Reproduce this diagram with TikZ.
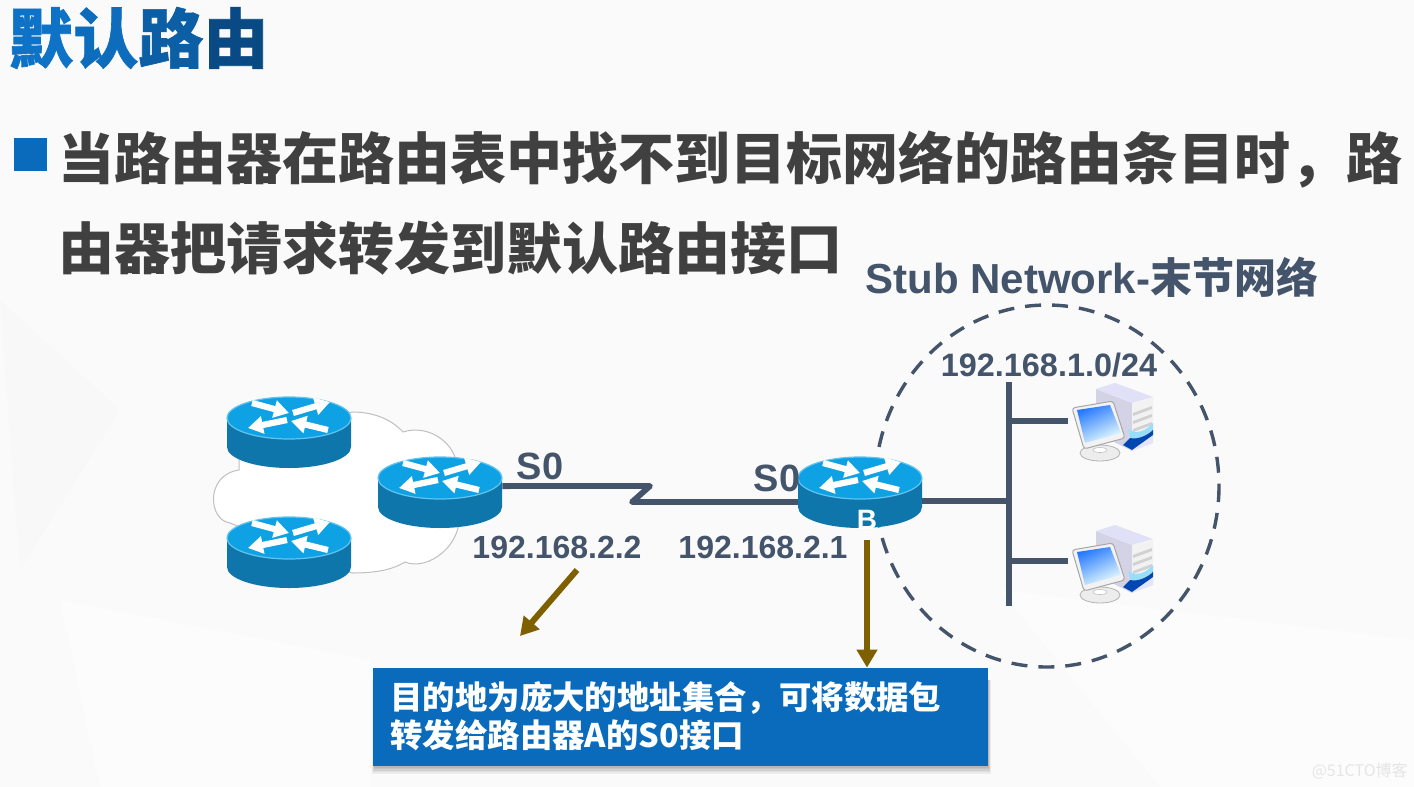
\documentclass[tikz,border=0pt]{standalone}
\usepackage{fontspec}
\setmainfont{Liberation Sans}
\newfontfamily\cjk{Noto Sans CJK SC}
\newfontfamily\cjkheavy{Noto Sans CJK SC}[BoldFeatures={FakeBold=1}]
\usetikzlibrary{arrows.meta,calc}
\definecolor{slate}{HTML}{44546A}
\definecolor{bluebox}{HTML}{0A6BBD}
\definecolor{brownarrow}{HTML}{7F6000}
\definecolor{bodygray}{HTML}{404040}
\definecolor{rtop}{HTML}{0EA2E4}
\definecolor{rside}{HTML}{0F76AC}
\definecolor{rrim}{HTML}{62C4EE}
\definecolor{rshadow}{HTML}{0B4F7A}
\tikzset{
  routerbox/.style={inner sep=0pt,minimum width=62pt,minimum height=35.5pt},
  pcbox/.style={inner sep=0pt,minimum width=44pt,minimum height=40pt},
  rarrow/.style={white,line width=3.1pt,-{Triangle[length=7.5pt,width=8.5pt]}},
  netline/.style={slate,line width=2.9pt},
  brarrow/.style={brownarrow,line width=3pt,-{Triangle[length=9pt,width=10pt]}},
  iplabel/.style={slate,font=\fontsize{16}{18}\selectfont\bfseries,inner sep=0pt},
  portlabel/.style={slate,font=\fontsize{19}{21}\selectfont\bfseries,inner sep=0pt},
  bodyline/.style={bodygray,anchor=west,inner sep=0pt,font=\fontsize{28}{30}\cjk\bfseries},
}
\newcommand{\routerat}[3]{%
  \node[routerbox] (#1) at (#2,#3+35.5) {};
  \begin{scope}[shift={(#2,#3+21)}]
    \fill[rside] (-62,0) -- (-62,29) arc[start angle=180,end angle=0,x radius=62,y radius=21] -- (62,0) -- cycle;
    \fill[rtop,draw=rrim,line width=.6pt] (0,0) ellipse [x radius=62,y radius=21];
    \draw[rarrow] (-37,-15) -- (0,-5);
    \draw[rarrow] (4,-5) -- (41,-16);
    \draw[rarrow] (-2,2) -- (-41,10);
    \draw[rarrow] (39,12) -- (2,3);
  \end{scope}}
\newcommand{\pcat}[3]{%
  \node[pcbox] (#1) at (#2,#3) {};
  \begin{scope}[shift={(#2,#3)}]
    % tower faces
    \fill[white!92!blue!90!black] (-16,-32) -- (20,-18) -- (20,30) -- (-16,12) -- cycle;
    \fill[black!30!blue!12!white] (-16,-32) -- (3,-38) -- (41,-24) -- (20,-18) -- cycle;
    \fill[white!95!black] (20,-18) -- (41,-24) -- (41,22) -- (20,30) -- cycle;
    \foreach \d in {0,8,16,24}{\fill[black!18] (21,-8+\d) -- (40,-15+\d) -- (40,-12+\d) -- (21,-5+\d) -- cycle;}
    \fill[black!25!blue!10!white] (20,22) -- (41,12) -- (41,22) -- (20,30) -- cycle;
    % blue accent
    \fill[white!60!cyan] (16,8) .. controls (24,14) and (34,10) .. (41,2) -- (41,9) -- (20,22) -- cycle;
    \fill[blue!60!cyan!70!black] (11,24) -- (18,17) .. controls (26,19) and (36,14) .. (41,9) -- (41,14) -- (20,29) -- cycle;
    % base
    \fill[black!7,draw=black!30,line width=.4pt] (-12,32) ellipse [x radius=20,y radius=8];
    \fill[white,draw=black!25,line width=.3pt] (-12,29) ellipse [x radius=7,y radius=2.5];
    % monitor
    \fill[black!5,draw=black!35,line width=.5pt,rounded corners=1.5pt] (-40,-13) -- (1,-20) -- (13,17) -- (-28,28) -- cycle;
    \shade[left color=blue!62!cyan!85!white,right color=cyan!8!white,shading angle=25] (-35,-11) -- (-2,-16) -- (9,12) -- (-27,22) -- cycle;
  \end{scope}}
\begin{document}
\begin{tikzpicture}[x=0.5pt,y=-0.5pt]
\useasboundingbox (0,0) rectangle (1414,787);
\fill[white!98!black] (0,0) rectangle (1414,787);
\fill[white!97.3!black] (0,300) -- (120,410) -- (20,570) -- cycle;
\fill[white!99!black] (1000,590) -- (1414,640) -- (1414,787) -- (1160,787) -- cycle;
\fill[white!99!black] (60,600) -- (370,660) -- (370,787) -- (100,787) -- cycle;
% title
\node[anchor=west,inner sep=0pt,font=\fontsize{32.5}{34}\cjkheavy\bfseries] (title) at (8,38)
  {\textcolor[HTML]{0E72C6}{默}\textcolor[HTML]{0E6CBC}{认}\textcolor[HTML]{0C5FA4}{路}\textcolor[HTML]{0A4A84}{由}};
% bullet
\node[fill=bluebox,inner sep=0pt,minimum size=16.5pt] (bullet) at (30,154.5) {};
\node[bodyline] (l1) at (58,160) {当路由器在路由表中找不到目标网络的路由条目时，路};
\node[bodyline] (l2) at (58,248) {由器把请求转发到默认路由接口};
\node[anchor=west,inner sep=0pt,slate,font=\fontsize{21}{23}\selectfont\bfseries] (stub) at (865,277) {Stub Network-{\cjk 末节网络}};
% dashed circle
\draw[slate,line width=1.7pt,dash pattern=on 8pt off 5.5pt] (1047,486) ellipse [x radius=172,y radius=181];
\node[iplabel,font=\fontsize{16.2}{19}\selectfont\bfseries] (net) at (1049,365) {192.168.1.0/24};
% cloud
\fill[white,draw=black!25,line width=.5pt]
  (352,412) .. controls (375,412) and (392,420) .. (403,432)
  .. controls (425,425) and (448,438) .. (455,457)
  -- (458,528)
  .. controls (452,552) and (425,570) .. (405,562)
  .. controls (392,570) and (375,573) .. (352,573)
  -- (230,523)
  .. controls (208,520) and (205,475) .. (239,470)
  -- (239,460) -- cycle;
% routers
\routerat{r1}{289}{397}
\routerat{r2}{289}{517}
\routerat{r3}{440}{457}
\coordinate (zigA) at (650,486);
\coordinate (zigB) at (632,502);
\draw[netline,line join=round] ([yshift=3.2pt]r3.east) -- (zigA) -- (zigB) -- (800,502);
\routerat{rb}{860}{457}
\node[white,inner sep=0pt,font=\fontsize{14}{15}\selectfont\bfseries] (blabel) at (867,520) {B};
% bus
\coordinate (busT) at (1009,382);
\coordinate (busB) at (1009,606);
\draw[netline,line width=3.2pt] (busT) -- (busB);
\pcat{pc1}{1112}{421}
\pcat{pc2}{1112}{563}
\draw[netline] (rb.east |- 0,501) -- (busT |- 0,501);
\draw[netline] (busT |- pc1.west) -- (pc1.west);
\draw[netline] (busT |- 0,561) -- (1068,561);
% labels
\node[portlabel] (s0a) at (540,466) {S0};
\node[portlabel] (s0b) at (777,478) {S0};
\node[iplabel] (ipa) at (557,547) {192.168.2.2};
\node[iplabel] (ipb) at (763,547) {192.168.2.1};
% info box with soft shadow
\foreach \i in {0,1,2,3,4,5}{
  \fill[black,opacity=.06] (375-\i*.6,680) rectangle (988+\i*.6,766+\i*1.6);
}
\node[fill=bluebox,minimum width=307.5pt,minimum height=49pt,inner sep=0pt] (box) at (680.5,717) {};
\node[anchor=west,inner sep=0pt,white,align=left,font=\fontsize{16.2}{19}\cjk\bfseries] (boxtext) at (390,716)
  {目的地为庞大的地址集合，可将数据包\\转发给路由器A的S0接口};
% arrows
\coordinate (a1s) at (577,570);
\coordinate (a1e) at (520,636);
\coordinate (a2s) at (867,540);
\draw[brarrow] (a1s) -- (a1e);
\draw[brarrow] (a2s) -- (a2s |- box.north);
% watermark
\node[anchor=east,inner sep=0pt,black!10,font=\fontsize{8}{9}\cjk] (wm) at (1408,771) {@51CTO博客};
\end{tikzpicture}
\end{document}
